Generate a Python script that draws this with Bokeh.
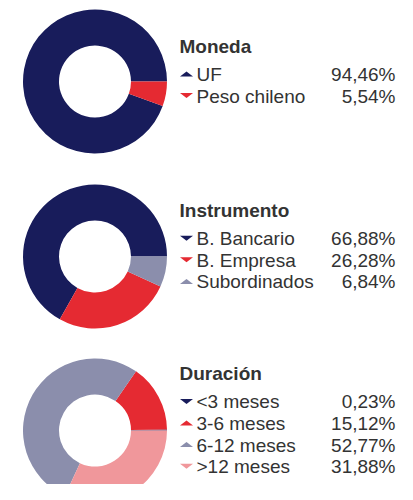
import math
from bokeh.plotting import figure
from bokeh.models import Range1d, ColumnDataSource
from bokeh.embed import file_html
from bokeh.resources import INLINE
from bokeh.core.properties import value

# ---- data ----
titles = ["Moneda", "Instrumento", "Duración"]
moneda_labels = ["UF", "Peso chileno"]
moneda_values = [94.46, 5.54]
instrumento_labels = ["B. Bancario", "B. Empresa", "Subordinados"]
instrumento_values = [66.88, 26.28, 6.84]
duracion_labels = ["<3 meses", "3-6 meses", "6-12 meses", ">12 meses"]
duracion_values = [0.23, 15.12, 52.77, 31.88]

# ---- styles ----
NAVY = "#181c5b"
RED = "#e52a32"
GRAY = "#8b8eac"
PINK = "#f0979b"
TEXT = "#333333"
moneda_colors = [NAVY, RED]
moneda_marks = ["up", "down"]
instrumento_colors = [NAVY, RED, GRAY]
instrumento_marks = ["down", "down", "up"]
duracion_colors = [NAVY, RED, GRAY, PINK]
duracion_marks = ["down", "up", "up", "down"]

groups = [
    (titles[0], moneda_labels, moneda_values, moneda_colors, moneda_marks),
    (titles[1], instrumento_labels, instrumento_values, instrumento_colors, instrumento_marks),
    (titles[2], duracion_labels, duracion_values, duracion_colors, duracion_marks),
]

W, H = 397, 484
TXT_SHIFT = 7  # compensation for text baseline placement


def px(x):
    return x


def py(y):
    return H - y


centers_y = [81, 256, 430]
CX = 94.5
R_OUT, R_IN = 72, 36
FONT = value("Liberation Sans")
FS = "19px"
ROW = 21.6

p = figure(width=W, height=H, x_range=Range1d(0, W), y_range=Range1d(0, H),
           output_backend="svg", toolbar_location=None,
           x_axis_type=None, y_axis_type=None, min_border=0)
p.outline_line_color = None
p.background_fill_color = "white"
p.border_fill_color = "white"

for (title, labels, vals, colors, marks), cy in zip(groups, centers_y):
    total = sum(vals)
    starts, ends = [], []
    acc = 0.0
    for v in vals:
        starts.append(2 * math.pi * acc / total)
        acc += v
        ends.append(2 * math.pi * acc / total)
    src = ColumnDataSource(dict(
        x=[px(CX)] * len(vals), y=[py(cy)] * len(vals),
        s=starts, e=ends, c=colors))
    p.annular_wedge(x="x", y="y", inner_radius=R_IN, outer_radius=R_OUT,
                    start_angle="s", end_angle="e", fill_color="c",
                    line_color=None, source=src)

    n = len(labels)
    baselines = [cy + 10.8 + (i - (n - 1) / 2) * ROW for i in range(n)]
    title_base = baselines[0] - 28.5
    p.text(x=[px(179)], y=[py(title_base - TXT_SHIFT)], text=[title], text_font=FONT,
           text_font_size=FS, text_font_style="bold", text_color=TEXT,
           text_baseline="alphabetic", text_align="left")
    p.text(x=[px(196)] * n, y=[py(b - TXT_SHIFT) for b in baselines], text=labels,
           text_font=FONT, text_font_size=FS, text_color=TEXT,
           text_baseline="alphabetic", text_align="left")
    vtxt = [("%.2f" % v).replace(".", ",") + "%" for v in vals]
    p.text(x=[px(395)] * n, y=[py(b - TXT_SHIFT) for b in baselines], text=vtxt,
           text_font=FONT, text_font_size=FS, text_color=TEXT,
           text_baseline="alphabetic", text_align="right")

    xs, ys = [], []
    for b, m in zip(baselines, marks):
        cxm, cym = px(186), py(b - 7.5)
        hw, hh = 6.5, 2.5
        xs.append([cxm - hw, cxm + hw, cxm])
        if m == "up":
            ys.append([cym - hh, cym - hh, cym + hh])
        else:
            ys.append([cym + hh, cym + hh, cym - hh])
    p.patches(xs=xs, ys=ys, fill_color=colors, line_color=None)

open("out.html", "w").write(file_html(p, INLINE))
